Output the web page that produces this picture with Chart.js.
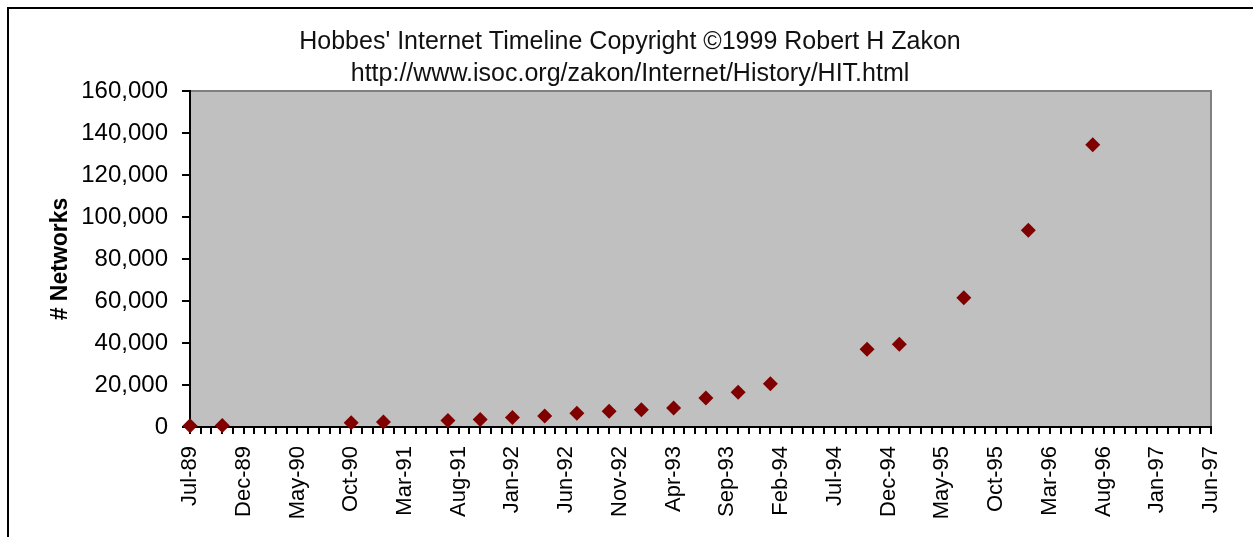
<!DOCTYPE html>
<html>
<head>
<meta charset="utf-8">
<script src="https://cdn.jsdelivr.net/npm/chart.js@4/dist/chart.umd.min.js"></script>
<style>
  html, body { margin: 0; padding: 0; background: #fff; }
  #wrap { position: relative; width: 1253px; height: 537px; }
  #frame { position: absolute; left: 7px; top: 7px; right: 0; bottom: 0;
           border-top: 2px solid #000; border-left: 2px solid #000; pointer-events: none; }
</style>
</head>
<body>
<div id="wrap">
  <canvas id="chart" width="1253" height="537"></canvas>
  <div id="frame"></div>
</div>
<script>
// axis months Jul-89 .. Jun-97
const monthNames = ['Jan', 'Feb', 'Mar', 'Apr', 'May', 'Jun', 'Jul', 'Aug', 'Sep', 'Oct', 'Nov', 'Dec'];
const monthLabels = [];
for (let i = 0; i < 96; i++) {
    const m = (6 + i) % 12;
    const y = 89 + Math.floor((6 + i) / 12);
    monthLabels.push(monthNames[m] + '-' + String(y % 100).padStart(2, '0'));
}

// survey dates and network counts
const surveyDates = ['Jul-89', 'Oct-89', 'Oct-90', 'Jan-91', 'Jul-91', 'Oct-91', 'Jan-92', 'Apr-92',
    'Jul-92', 'Oct-92', 'Jan-93', 'Apr-93', 'Jul-93', 'Oct-93', 'Jan-94', 'Oct-94', 'Jan-95',
    'Jul-95', 'Jan-96', 'Jul-96'];
const networks = [650, 753, 2063, 2338, 3086, 3556, 4526, 5291, 6569, 7505, 8258, 9020,
    13767, 16533, 20539, 37022, 39410, 61538, 93671, 134365];

const yTicks = { min: 0, max: 160000, step: 20000 };

const titleLines = [
    "Hobbes' Internet Timeline Copyright \u00A91999 Robert H Zakon",
    'http://www.isoc.org/zakon/Internet/History/HIT.html'
];

const FONT = "'Liberation Sans', Arial, sans-serif";

const plotBackground = {
    id: 'plotBackground',
    beforeDraw(chart) {
        const { ctx, chartArea: a } = chart;
        ctx.save();
        ctx.fillStyle = '#c0c0c0';
        ctx.fillRect(a.left, a.top, a.right - a.left, a.bottom - a.top);
        ctx.strokeStyle = '#808080';
        ctx.lineWidth = 2;
        ctx.strokeRect(a.left, a.top, a.right - a.left, a.bottom - a.top);
        ctx.restore();
    }
};

new Chart(document.getElementById('chart'), {
    type: 'line',
    data: {
        labels: monthLabels,
        datasets: [{
            label: 'Networks',
            data: surveyDates.map((d, i) => ({ x: d, y: networks[i] })),
            showLine: false,
            pointStyle: 'rectRot',
            pointRadius: 7.5,
            pointHoverRadius: 7.5,
            backgroundColor: '#800000',
            borderColor: '#800000',
            borderWidth: 0,
            clip: false
        }]
    },
    options: {
        responsive: false,
        animation: false,
        layout: {
            padding: { left: 49, right: 42, top: 0, bottom: 0 }
        },
        scales: {
            x: {
                type: 'category',
                offset: false,
                afterFit: (scale) => { scale.height = 110; },
                border: { color: '#000', width: 2 },
                grid: {
                    drawOnChartArea: false,
                    drawTicks: true,
                    tickLength: 7,
                    color: '#000',
                    lineWidth: 2,
                    offset: false
                },
                ticks: {
                    autoSkip: false,
                    maxRotation: 90,
                    minRotation: 90,
                    padding: 12,
                    color: '#000',
                    font: { family: FONT, size: 22 },
                    callback: function (value, index) {
                        return index % 5 === 0 ? this.getLabelForValue(value) : '';
                    }
                }
            },
            y: {
                min: yTicks.min,
                max: yTicks.max,
                afterFit: (scale) => { scale.width = 141; },
                border: { color: '#000', width: 2 },
                grid: {
                    drawOnChartArea: false,
                    tickLength: 8,
                    color: '#000',
                    lineWidth: 2
                },
                ticks: {
                    stepSize: yTicks.step,
                    padding: 14,
                    color: '#000',
                    font: { family: FONT, size: 24 },
                    callback: (value) => value.toLocaleString('en-US')
                },
                title: {
                    display: true,
                    text: '# Networks',
                    color: '#000',
                    padding: 0,
                    font: { family: FONT, size: 23, weight: 'bold', lineHeight: 1 }
                }
            }
        },
        plugins: {
            legend: { display: false },
            tooltip: { enabled: false },
            title: {
                display: true,
                text: titleLines,
                color: '#111',
                padding: { top: 26, bottom: 1 },
                font: { family: FONT, size: 25, weight: 'normal', lineHeight: '32px' }
            }
        }
    },
    plugins: [plotBackground]
});
</script>
</body>
</html>
